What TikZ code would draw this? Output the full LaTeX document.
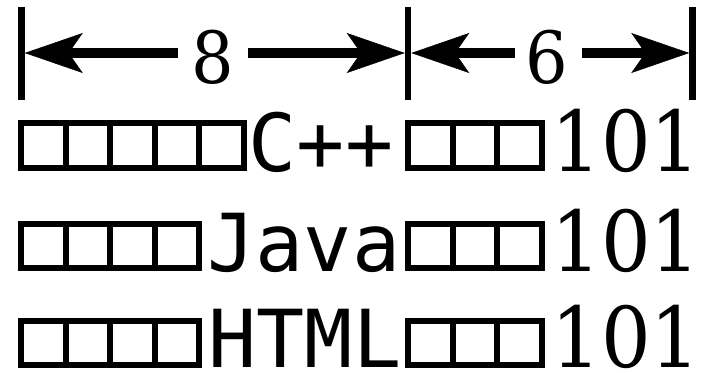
\documentclass[tikz,border=0pt]{standalone}
\usepackage{fontspec}
\usepackage{graphicx}
\newfontfamily\labelfont{DejaVu Sans Mono}
\newfontfamily\numfont{DejaVu Serif}
\newcommand\narrowdigits[1]{\scalebox{0.93}[1]{#1}}
\usetikzlibrary{arrows.meta}
\begin{document}
\begin{tikzpicture}[x=1pt,y=-1pt,
  guide/.style={line width=6.5pt},
  dimline/.style={line width=10pt,
    -{Stealth[length=58pt,width=40pt,inset=14pt,line width=0.5pt]}},
  dimnum/.style={font=\numfont\fontsize{72}{72}\selectfont, inner sep=0pt,
    text depth=0pt, anchor=base},
  cell/.style={draw, line width=6pt, minimum width=44.5pt, minimum height=44.5pt,
    inner sep=0pt, outer sep=0pt},
  lang/.style={font=\labelfont\fontsize{80}{80}\selectfont, inner sep=0pt,
    text depth=0pt, anchor=base},
  val/.style={font=\numfont\fontsize{84}{84}\selectfont, inner sep=0pt,
    text depth=0pt, anchor=base}]
\useasboundingbox (0,0) rectangle (701,372);

% extension lines of the dimensions
\coordinate (g1t) at (21.5,7);  \coordinate (g1b) at (21.5,100);
\coordinate (g2t) at (408,7);   \coordinate (g2b) at (408,100);
\coordinate (g3t) at (692.5,7); \coordinate (g3b) at (692.5,100);
\draw[guide] (g1t) -- (g1b);
\draw[guide] (g2t) -- (g2b);
\draw[guide] (g3t) -- (g3b);

% dimension: 8
\node[dimnum] (n8) at (213,83) {\narrowdigits{8}};
\coordinate (a8l) at (178,53);  \coordinate (t8l) at (24.75,53);
\coordinate (a8r) at (248,53);  \coordinate (t8r) at (404.75,53);
\draw[dimline] (a8l) -- (t8l);
\draw[dimline] (a8r) -- (t8r);

% dimension: 6
\node[dimnum] (n6) at (547,83) {\narrowdigits{6}};
\coordinate (a6l) at (515,53);  \coordinate (t6l) at (411.25,53);
\coordinate (a6r) at (582,53);  \coordinate (t6r) at (689.25,53);
\draw[dimline] (a6l) -- (t6l);
\draw[dimline] (a6r) -- (t6r);

% row 1: C++
\foreach \i in {1,...,5}
  \node[cell] (ra\i) at ({21+44.5*(\i-0.5)},145.5) {};
\node[lang] (cpp) at (321,171) {C++};
\foreach \i in {1,2,3}
  \node[cell] (rb\i) at ({408+44.5*(\i-0.5)},145.5) {};
\node[val] (v1) at (626,171) {\narrowdigits{101}};

% row 2: Java
\foreach \i in {1,...,4}
  \node[cell] (sa\i) at ({21+44.5*(\i-0.5)},246) {};
\node[lang] (java) at (304,271) {Java};
\foreach \i in {1,2,3}
  \node[cell] (sb\i) at ({408+44.5*(\i-0.5)},246) {};
\node[val] (v2) at (626,271) {\narrowdigits{101}};

% row 3: HTML
\foreach \i in {1,...,4}
  \node[cell] (ta\i) at ({21+44.5*(\i-0.5)},343) {};
\node[lang] (html) at (305,367) {HTML};
\foreach \i in {1,2,3}
  \node[cell] (tb\i) at ({408+44.5*(\i-0.5)},343) {};
\node[val] (v3) at (626,367) {\narrowdigits{101}};
\end{tikzpicture}
\end{document}
